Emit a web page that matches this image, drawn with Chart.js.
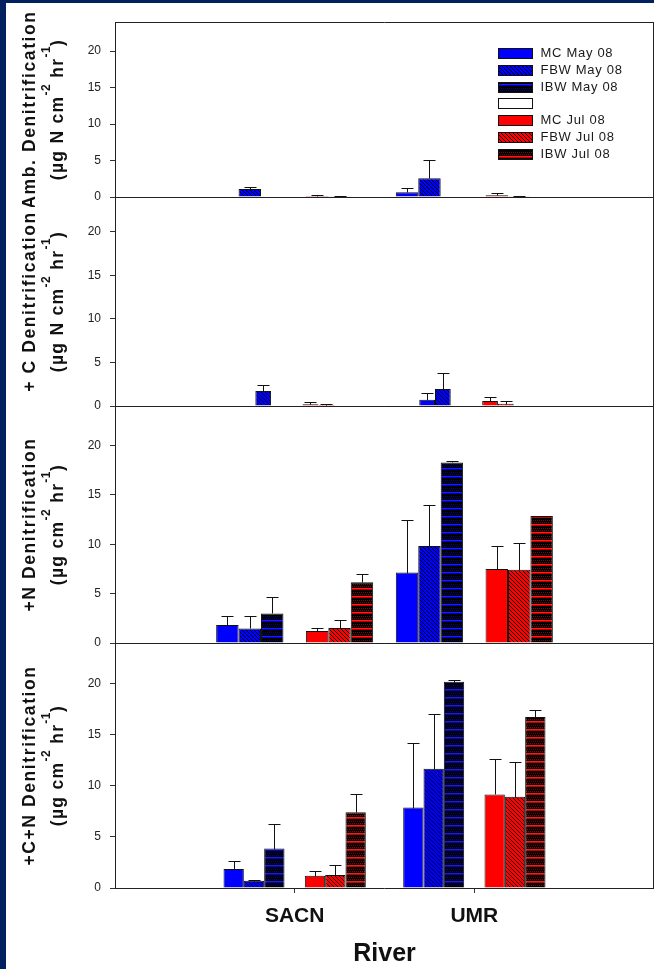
<!DOCTYPE html>
<html>
<head>
<meta charset="utf-8">
<script src="https://cdn.jsdelivr.net/npm/chart.js@4.4.1/dist/chart.umd.min.js"></script>
<style>
html,body{margin:0;padding:0;background:#fff;overflow:hidden}
#frame{position:relative;width:654px;height:969px;background:#002060}
#inner{position:absolute;left:6px;top:3px;right:0;bottom:0;background:#fff}
canvas{position:absolute;left:0}
</style>
</head>
<body>
<div id="frame">
  <div id="inner"></div>
  <canvas id="p1" width="654" height="195" style="top:12px;width:654px;height:195px"></canvas>
  <canvas id="p2" width="654" height="229" style="top:187px;width:654px;height:229px"></canvas>
  <canvas id="p3" width="654" height="257" style="top:396px;width:654px;height:257px"></canvas>
  <canvas id="p4" width="654" height="336" style="top:633px;width:654px;height:336px"></canvas>
</div>
<script>
// ---------------- data ----------------
const categories = ['SACN', 'UMR'];
const seriesLabels = ['MC May 08', 'FBW May 08', 'IBW May 08', 'MC Jul 08', 'FBW Jul 08', 'IBW Jul 08'];
const yTicks = [0, 5, 10, 15, 20];
const yMax = 24;
const xTitle = 'River';
const yTitles = ['Amb. Denitrification', '+ C Denitrification', '+N Denitrification', '+C+N Denitrification'];
const unitsWithN = ['(\u00b5g N cm', '-2', ' hr', '-1', ')'];
const unitsNoN = ['(\u00b5g cm', '-2', ' hr', '-1', ')'];

// each row: one series, values for [SACN, UMR]
const ambMeans  = [[0, 0.65], [1.1, 2.57], [0, 0], [0.15, 0.23], [0.1, 0.1], [0, 0]];
const ambErrors = [[0, 0.63], [0.3, 2.47], [0.05, 0], [0.1, 0.27], [0.05, 0.05], [0, 0]];
const cMeans    = [[0, 0.73], [1.73, 1.96], [0, 0], [0.2, 0.58], [0.15, 0.27], [0, 0]];
const cErrors   = [[0, 0.77], [0.65, 1.88], [0, 0], [0.22, 0.46], [0.1, 0.27], [0, 0]];
const nMeans    = [[1.82, 7.13], [1.48, 9.83], [3.0, 18.28], [1.22, 7.5], [1.52, 7.43], [6.14, 12.87]];
const nErrors   = [[0.88, 5.34], [1.22, 4.19], [1.69, 0.2], [0.26, 2.3], [0.77, 2.71], [0.81, 0]];
const cnMeans   = [[1.87, 7.88], [0.72, 11.68], [3.86, 20.2], [1.21, 9.16], [1.27, 8.93], [7.43, 16.76]];
const cnErrors  = [[0.78, 6.29], [0.03, 5.34], [2.39, 0.19], [0.43, 3.48], [0.96, 3.44], [1.8, 0.69]];

// ---------------- styling ----------------
const FAMILY = '"Liberation Sans", Arial, Helvetica, sans-serif';
const BLUE = '#0000ff', RED = '#ff0000';
Chart.defaults.font.family = FAMILY;

function hatch(ctx, bg) {
  const c = document.createElement('canvas'); c.width = 4; c.height = 4;
  const g = c.getContext('2d');
  g.fillStyle = bg; g.fillRect(0, 0, 4, 4);
  g.strokeStyle = '#000'; g.lineWidth = 0.95;
  for (const o of [-4, 0, 4]) { g.beginPath(); g.moveTo(o, 0); g.lineTo(o + 4, 4); g.stroke(); }
  return ctx.createPattern(c, 'repeat');
}
function dotted(ctx, line, line2, dot) {
  const c = document.createElement('canvas'); c.width = 4; c.height = 8;
  const g = c.getContext('2d');
  g.fillStyle = '#000'; g.fillRect(0, 0, 4, 8);
  g.fillStyle = line; g.fillRect(0, 0, 4, 1);
  g.fillStyle = line2; g.fillRect(0, 1, 4, 1);
  g.fillStyle = dot; g.fillRect(1, 4, 1, 1); g.fillRect(3, 4, 1, 1); g.fillRect(0, 6, 1, 1); g.fillRect(2, 6, 1, 1);
  return ctx.createPattern(c, 'repeat');
}

const framePlugin = {
  id: 'frame',
  afterDraw(chart) {
    const {ctx, chartArea: a} = chart;
    ctx.save();
    ctx.strokeStyle = '#222'; ctx.lineWidth = 1;
    ctx.beginPath();
    ctx.moveTo(a.left, a.top + 0.5); ctx.lineTo(a.right, a.top + 0.5);
    ctx.moveTo(a.left, a.bottom + 0.5); ctx.lineTo(a.right, a.bottom + 0.5);
    ctx.moveTo(a.left + 0.5, a.top); ctx.lineTo(a.left + 0.5, a.bottom + 1);
    ctx.moveTo(a.right - 0.5, a.top); ctx.lineTo(a.right - 0.5, a.bottom + 1);
    ctx.stroke();
    ctx.restore();
  }
};

const errorPlugin = {
  id: 'errbars',
  afterDatasetsDraw(chart) {
    const {ctx} = chart; const y = chart.scales.y;
    ctx.save(); ctx.strokeStyle = '#111'; ctx.lineWidth = 1;
    chart.data.datasets.forEach((ds, di) => {
      if (!ds.errors) return;
      const meta = chart.getDatasetMeta(di);
      meta.data.forEach((el, j) => {
        const v = ds.data[j], e = ds.errors[j];
        if (v == null || !e) return;
        const x = Math.round(el.x) + 0.5;
        const yb = Math.round(y.getPixelForValue(v)) + 0.5;
        const yt = Math.round(y.getPixelForValue(v + e)) + 0.5;
        ctx.beginPath();
        ctx.moveTo(x, yb); ctx.lineTo(x, yt);
        ctx.moveTo(x - 6, yt); ctx.lineTo(x + 6, yt);
        ctx.stroke();
      });
    });
    ctx.restore();
  }
};

const yTitlePlugin = {
  id: 'ytitle',
  afterDraw(chart, args, opts) {
    const {ctx, chartArea: a} = chart;
    const cy = (a.top + a.bottom) / 2;
    ctx.save();
    ctx.fillStyle = '#111';
    ctx.translate(35, cy); ctx.rotate(-Math.PI / 2);
    ctx.font = 'bold 17.5px ' + FAMILY;
    ctx.letterSpacing = '1.6px';
    ctx.textAlign = 'center'; ctx.textBaseline = 'alphabetic';
    ctx.fillText(opts.line1, 0, 0);
    ctx.restore();

    ctx.save();
    ctx.fillStyle = '#111';
    ctx.translate(63, cy); ctx.rotate(-Math.PI / 2);
    ctx.textAlign = 'left'; ctx.textBaseline = 'alphabetic';
    const mainFont = 'bold 17.5px ' + FAMILY, supFont = 'bold 12px ' + FAMILY;
    let total = 0; const widths = [];
    opts.parts.forEach((p, i) => {
      ctx.font = i % 2 ? supFont : mainFont;
      ctx.letterSpacing = i % 2 ? '0.5px' : '1.3px';
      const w = ctx.measureText(p).width; widths.push(w); total += w;
    });
    let x = -total / 2;
    opts.parts.forEach((p, i) => {
      ctx.font = i % 2 ? supFont : mainFont;
      ctx.letterSpacing = i % 2 ? '0.5px' : '1.3px';
      ctx.fillText(p, x, i % 2 ? -13 : 0);
      x += widths[i];
    });
    ctx.restore();
  }
};

const legendPlugin = {
  id: 'boxlegend',
  afterDraw(chart, args, opts) {
    if (!opts.show) return;
    const {ctx, chartArea: a} = chart;
    ctx.save();
    ctx.font = '13px ' + FAMILY;
    ctx.letterSpacing = '0.7px';
    ctx.textBaseline = 'middle'; ctx.textAlign = 'left';
    chart.data.datasets.forEach((ds, i) => {
      const cy = a.top + 31.3 + i * 16.73;
      const bx = 498.5, by = Math.round(cy - 5) + 0.5;
      ctx.fillStyle = ds.backgroundColor;
      ctx.fillRect(bx, by, 34, 10);
      ctx.strokeStyle = '#111'; ctx.lineWidth = 1;
      ctx.strokeRect(bx, by, 34, 10);
      if (ds.label) { ctx.fillStyle = '#1a1a1a'; ctx.fillText(ds.label, 540.5, cy + 0.5); }
    });
    ctx.restore();
  }
};

const panels = [
  {id: 'p1', means: ambMeans, errs: ambErrors, title: yTitles[0], units: unitsWithN, catPct: 0.874, legend: true, xAxis: false},
  {id: 'p2', means: cMeans, errs: cErrors, title: yTitles[1], units: unitsWithN, catPct: 0.613, legend: false, xAxis: false},
  {id: 'p3', means: nMeans, errs: nErrors, title: yTitles[2], units: unitsNoN, catPct: 0.874, legend: false, xAxis: false},
  {id: 'p4', means: cnMeans, errs: cnErrors, title: yTitles[3], units: unitsNoN, catPct: 0.792, legend: false, xAxis: true}
];

const axisLabels = ['', ...categories, ''];

panels.forEach(p => {
  const canvas = document.getElementById(p.id);
  const ctx = canvas.getContext('2d');
  const fills = [BLUE, hatch(ctx, BLUE), dotted(ctx, '#1a1aff', '#0000c0', '#00008c'), RED, hatch(ctx, RED), dotted(ctx, '#ff1a1a', '#c00000', '#8c0000')];
  const datasets = [];
  seriesLabels.forEach((lab, i) => {
    if (i === 3) {
      datasets.push({label: '', data: axisLabels.map(() => null), backgroundColor: '#ffffff', borderColor: '#111', borderWidth: 1});
    }
    datasets.push({
      label: lab,
      data: [null, ...p.means[i], null],
      errors: [null, ...p.errs[i], null],
      backgroundColor: fills[i],
      borderColor: '#111',
      borderWidth: 1
    });
  });

  new Chart(ctx, {
    type: 'bar',
    data: {labels: axisLabels, datasets},
    plugins: [errorPlugin, framePlugin, yTitlePlugin, legendPlugin],
    options: {
      responsive: false,
      animation: false,
      devicePixelRatio: 1,
      categoryPercentage: p.catPct,
      barPercentage: 1,
      layout: {padding: {top: 10, bottom: p.xAxis ? 0 : 10, left: 0, right: 0}},
      plugins: {
        legend: {display: false},
        tooltip: {enabled: false},
        ytitle: {line1: p.title, parts: p.units},
        boxlegend: {show: p.legend}
      },
      scales: {
        x: {
          display: p.xAxis,
          offset: false,
          grid: {
            display: true, drawOnChartArea: false, drawTicks: true, tickLength: 5, offset: false,
            color: (c) => (c.index === 0 || c.index === axisLabels.length - 1) ? 'rgba(0,0,0,0)' : '#333'
          },
          border: {display: false},
          ticks: {autoSkip: false, maxRotation: 0, padding: 11, color: '#111', font: {size: 21, weight: 'bold'}},
          title: {display: true, text: xTitle, color: '#111', font: {size: 25, weight: 'bold'}, padding: 0},
          afterFit: (s) => {
            s.paddingLeft = 0; s.paddingRight = 0;
            if (p.xAxis) { s.height = 81; } else { s.height = 0; }
          }
        },
        y: {
          min: 0, max: yMax,
          afterBuildTicks: (s) => { s.ticks = yTicks.map(v => ({value: v})); },
          afterFit: (s) => { s.width = 115; s.paddingTop = 0; s.paddingBottom = 0; },
          grid: {display: true, drawOnChartArea: false, drawTicks: true, tickLength: 5, color: '#333'},
          border: {display: false},
          ticks: {padding: 9, color: '#222', font: {size: 12}}
        }
      }
    }
  });
});
</script>
</body>
</html>
